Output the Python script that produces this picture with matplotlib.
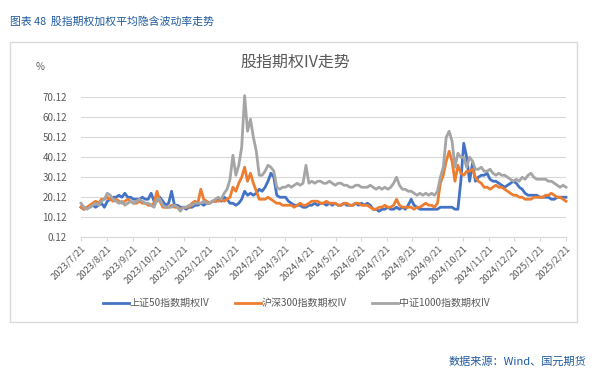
import matplotlib
matplotlib.use("Agg")
import matplotlib.pyplot as plt
from matplotlib.patches import Rectangle
import pandas as pd

plt.rcParams['font.family'] = ['Noto Sans CJK SC', 'DejaVu Sans']

# 167 samples, evenly spaced between the first and last date
start_date = "2023-07-21"
end_date = "2025-02-21"
n_points = 167

sse50_iv = [
    15, 14, 15, 15, 16, 15, 16, 17, 15, 18,
    19, 20, 20, 21, 20, 22, 20, 20, 19,
    19, 19, 20, 19, 19, 22, 18, 18,
    20, 18, 16, 17, 23, 16, 16, 15, 15,
    14, 15, 15, 16, 16, 17, 16, 17,
    17, 18, 18, 19, 18, 20, 19, 17, 17,
    16, 17, 19, 23, 21, 22, 21, 22, 24,
    23, 25, 28, 32, 30, 21, 20, 20, 20,
    18, 17, 16, 16, 16, 15, 15, 16, 16,
    17, 16, 17, 17, 16, 17, 16, 17, 16,
    16, 17, 16, 16, 16, 17, 16, 17, 16,
    17, 16, 14, 14, 13, 14, 14, 15, 14,
    14, 15, 14, 15, 14, 16, 19, 16, 15,
    14, 14, 14, 14, 14, 14, 14, 15, 15,
    15, 15, 15, 14, 14, 28, 47, 40, 28, 37,
    28, 30, 31, 31, 32, 29, 28, 28, 27, 26,
    25, 26, 27, 28, 27, 25, 24, 22, 21, 21,
    21, 21, 20, 20, 20, 20, 19, 19, 20, 20,
    20, 20,
]
hs300_iv = [
    15, 14, 15, 16, 17, 18, 17, 19, 19, 20,
    19, 18, 19, 18, 17, 18, 19, 18, 17,
    17, 18, 17, 17, 16, 16, 17, 23,
    18, 15, 15, 15, 16, 15, 15, 14, 15,
    15, 15, 17, 18, 17, 24, 19, 18,
    17, 18, 18, 18, 19, 18, 19, 20, 25,
    23, 27, 30, 35, 28, 32, 27, 23, 19,
    19, 19, 20, 19, 18, 17, 17, 16, 16,
    16, 16, 15, 16, 17, 16, 16, 17, 18,
    18, 18, 17, 17, 18, 17, 17, 17, 16,
    16, 17, 17, 16, 16, 17, 17, 16, 16,
    16, 15, 14, 14, 15, 15, 16, 15, 15,
    16, 19, 16, 15, 15, 15, 15, 14, 15,
    15, 16, 17, 16, 16, 15, 17, 27, 31,
    38, 43, 38, 28, 36, 32, 31, 33, 33, 34,
    30, 28, 27, 25, 25, 24, 25, 26, 25, 25,
    24, 23, 22, 21, 21, 20, 20, 19, 19, 19,
    20, 20, 20, 20, 21, 21, 22, 21, 20,
    20, 19, 18,
]
csi1000_iv = [
    17, 15, 14, 15, 16, 17, 16, 18, 19, 22,
    21, 19, 18, 17, 18, 16, 17, 18, 17,
    18, 19, 18, 17, 17, 16, 15, 19,
    19, 16, 15, 15, 15, 16, 15, 13, 15,
    15, 16, 16, 17, 17, 17, 18, 17,
    17, 18, 19, 20, 19, 22, 24, 29, 41,
    31, 36, 45, 70.8, 53, 59, 50, 43, 31,
    31, 33, 36, 35, 33, 25, 24, 25, 25,
    26, 25, 26, 27, 26, 27, 36, 27, 28,
    27, 28, 28, 27, 27, 28, 27, 26, 27,
    27, 26, 26, 25, 25, 26, 26, 25, 25,
    25, 26, 25, 24, 25, 24, 25, 24, 25,
    27, 30, 26, 24, 24, 23, 23, 22, 21,
    22, 21, 22, 21, 22, 21, 23, 30, 35,
    50, 53, 48, 35, 42, 40, 40, 35, 40, 38,
    34, 34, 35, 33, 33, 34, 32, 31, 32, 31,
    31, 30, 29, 28, 29, 28, 30, 29, 31, 32,
    30, 29, 29, 29, 29, 28, 28, 27, 26, 25,
    26, 25,
]

series_names = ["上证50指数期权IV", "沪深300指数期权IV", "中证1000指数期权IV"]
series_colors = ["#4472C4", "#ED7D31", "#A5A5A5"]
y_ticks = [0.12, 10.12, 20.12, 30.12, 40.12, 50.12, 60.12, 70.12]

dates = pd.date_range(start_date, end_date, periods=n_points)
month_ticks = pd.date_range("2023-07-01", end_date, freq="MS") + pd.Timedelta(days=20)

W, H = 606, 390
fig = plt.figure(figsize=(W / 100, H / 100), dpi=100)

# outer frame of the chart
fig.patches.append(Rectangle((10 / W, 1 - 322 / H), 567 / W, 280 / H,
                             transform=fig.transFigure, fill=False,
                             edgecolor="#d9d9d9", linewidth=1))

fig.text(10 / W, 1 - 22 / H, "图表 48  股指期权加权平均隐含波动率走势",
         fontsize=7.8, color="#1F5A9E", va="center", ha="left")
fig.text(295 / W, 1 - 62 / H, "股指期权IV走势", fontsize=11.5,
         color="#595959", va="center", ha="center")
fig.text(40 / W, 1 - 67 / H, "%", fontsize=7, color="#595959",
         va="center", ha="center")
fig.text(586 / W, 1 - 362 / H, "数据来源：Wind、国元期货", fontsize=8,
         color="#1F5A9E", va="center", ha="right")

ax = fig.add_axes([81 / W, 1 - 237 / H, 485 / W, 140 / H])
# excel order: later series drawn on top
for z, (vals, name, col) in enumerate(zip([sse50_iv, hs300_iv, csi1000_iv],
                                          series_names, series_colors)):
    ax.plot(dates, vals, color=col, lw=2, label=name, clip_on=False, zorder=3 + z)

ax.set_ylim(0.12, 70.12)
ax.set_yticks(y_ticks)
ax.set_yticklabels([f"{v:.2f}" for v in y_ticks], fontsize=7, color="#595959")
ax.set_xlim(dates[0], dates[-1])
ax.set_xticks(month_ticks)
ax.set_xticklabels([f"{d.year}/{d.month}/{d.day}" for d in month_ticks],
                   rotation=45, ha="right", rotation_mode="anchor",
                   fontsize=6.8, color="#595959")
ax.tick_params(axis="y", length=0, pad=10)
ax.tick_params(axis="x", length=3, color="#d9d9d9", pad=2)
ax.grid(axis="y", color="#d9d9d9", lw=0.8)
ax.set_axisbelow(True)
for s in ["top", "right", "left"]:
    ax.spines[s].set_visible(False)
ax.spines["bottom"].set_color("#d9d9d9")
ax.spines["bottom"].set_zorder(1)

fig.legend(loc="center", bbox_to_anchor=(296 / W, 1 - 303 / H), ncol=3,
           frameon=False, fontsize=7.2, handlelength=2.6, columnspacing=2.5,
           handletextpad=0.1, labelcolor="#595959")

fig.savefig("out.png", dpi=100)
